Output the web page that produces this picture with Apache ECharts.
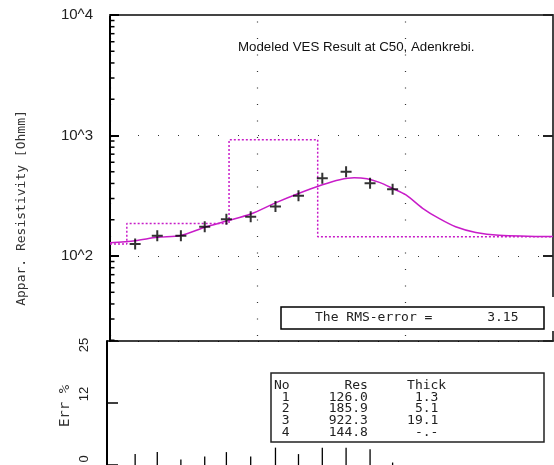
<!DOCTYPE html>
<html><head><meta charset="utf-8">
<script src="https://cdn.jsdelivr.net/npm/echarts@6/dist/echarts.min.js"></script>
<style>html,body{margin:0;padding:0;background:#fff}#c{width:554px;height:465px}</style>
</head><body><div id="c"></div>
<script>
// ---- data ----
const abHalf = [1.48, 2.09, 3.02, 4.38, 6.14, 8.97, 13.2, 18.9, 27.4, 39.7, 57.7, 82.0];
const rhoObs = [126, 147, 147, 175, 202, 212, 257, 317, 441, 501, 401, 358];
const errPct = [2.2, 2.6, 1.1, 1.7, 2.6, 1.7, 3.5, 2.2, 3.5, 3.5, 3.2, 0.5];
const modelAB = [1, 1.48, 2.09, 3.02, 4.38, 6.14, 8.97, 13.2, 18.9, 27.4, 36, 45, 55, 66.7, 82, 101, 131, 169, 219, 300, 431, 1000];
const modelRho = [129, 134, 143, 148, 173, 195, 223, 276, 330, 390, 430, 446, 437, 408, 364, 321, 249, 205, 175, 157, 149, 145];
const layerNo = [1, 2, 3, 4];
const layerRes = [126.0, 185.9, 922.3, 144.8];
const layerThick = [1.3, 5.1, 19.1, null];
const rmsError = 3.15;
const xMin = 1, xMax = 1000;
const yMin = 19.71, yMax = 10000;
const yTickValues = [100, 1000, 10000];
const yTickLabels = ['10^2', '10^3', '10^4'];
const minorTicks = [20,30,40,50,60,70,80,90,200,300,400,500,600,700,800,900,2000,3000,4000,5000,6000,7000,8000,9000];
const errMin = 0, errMax = 25;
const errTickLabels = ['0', '12', '25'];
const titleText = 'Modeled VES Result at C50, Adenkrebi.';

// ---- derived ----
const stepPts = [];
let depth = 0;
for (let i = 0; i < layerRes.length; i++) {
  const start = i === 0 ? xMin : depth;
  const end = layerThick[i] == null ? xMax : depth + layerThick[i];
  stepPts.push([start, layerRes[i]], [end, layerRes[i]]);
  if (layerThick[i] != null) depth += layerThick[i];
}
const tableLines = ['No' + ' '.repeat(7) + 'Res' + ' '.repeat(5) + 'Thick'];
for (let i = 0; i < layerNo.length; i++) {
  const th = layerThick[i] == null ? '-.-' : layerThick[i].toFixed(1);
  tableLines.push(' ' + layerNo[i] + layerRes[i].toFixed(1).padStart(10) + th.padStart(9));
}
const rmsLine = 'The RMS-error =' + rmsError.toFixed(2).padStart(11);

const MAG = '#c81cc8';
const mono = '"DejaVu Sans Mono", monospace';
const sans = '"Liberation Sans", Arial, sans-serif';

const chart = echarts.init(document.getElementById('c'), null, {renderer: 'canvas'});
chart.setOption({
  animation: false,
  backgroundColor: '#fff',
  grid: [
    {left: 110, right: 1, top: 15, bottom: 124, outerBoundsMode: 'none'},
    {left: 110, right: 1, top: 341, bottom: 0, outerBoundsMode: 'none'}
  ],
  xAxis: [
    {gridIndex: 0, type: 'log', min: xMin, max: xMax, position: 'top',
     axisLine: {show: true, onZero: false, lineStyle: {color: '#444', width: 2}},
     axisTick: {show: false}, axisLabel: {show: false}, minorTick: {show: false},
     splitLine: {show: true, lineStyle: {color: '#333', width: 1.2, type: [1, 15.5], dashOffset: 10}}},
    {gridIndex: 1, type: 'log', min: xMin, max: xMax, position: 'top',
     axisLine: {show: true, onZero: false, lineStyle: {color: '#000', width: 1.5}},
     axisTick: {show: false}, axisLabel: {show: false}, splitLine: {show: false}}
  ],
  yAxis: [
    {gridIndex: 0, type: 'log', min: yMin, max: yMax, position: 'left',
     axisLine: {show: true, onZero: false, lineStyle: {color: '#000', width: 2}},
     axisTick: {show: true, inside: true, length: 9, lineStyle: {color: '#000', width: 2}},
     axisLabel: {showMinLabel: false, margin: 17, color: '#222', fontSize: 15, fontFamily: sans,
       formatter: v => { const i = yTickValues.findIndex(t => Math.abs(Math.log10(v) - Math.log10(t)) < 1e-6); return i >= 0 ? yTickLabels[i] : ''; }},
     splitLine: {show: true, lineStyle: {color: '#333', width: 1.2, type: [1, 19], dashOffset: 12}}},
    {gridIndex: 0, type: 'log', min: yMin, max: yMax, position: 'right',
     axisLine: {show: true, onZero: false, lineStyle: {color: '#444', width: 2}},
     axisTick: {show: true, inside: true, length: 10, lineStyle: {color: '#222', width: 2}},
     axisLabel: {show: false}, splitLine: {show: false}},
    {gridIndex: 1, type: 'value', min: errMin, max: errMax, interval: (errMax - errMin) / 2, offset: 3, position: 'left',
     axisLine: {show: true, onZero: false, lineStyle: {color: '#000', width: 2}},
     axisTick: {show: true, inside: true, length: 11, lineStyle: {color: '#000', width: 1.5}},
     axisLabel: {rotate: 90, margin: 16, color: '#222', fontSize: 13, fontFamily: sans,
       formatter: v => { const i = Math.round(v / 12.5); return '{r' + i + '|' + errTickLabels[i] + '}'; },
       rich: {
         r0: {fontSize: 13, fontFamily: sans, color: '#222', padding: [0, 0, 0, 12]},
         r1: {fontSize: 13, fontFamily: sans, color: '#222', padding: [0, 0, 0, 18]},
         r2: {fontSize: 13, fontFamily: sans, color: '#222', padding: [0, 8, 0, 0]}
       }},
     splitLine: {show: false}}
  ],
  series: [
    {type: 'line', xAxisIndex: 0, yAxisIndex: 0, data: stepPts, symbol: 'none', z: 3,
     lineStyle: {color: MAG, width: 1.5, type: [2, 2]}},
    {type: 'line', xAxisIndex: 0, yAxisIndex: 0, data: modelAB.map((x, i) => [x, modelRho[i]]),
     symbol: 'none', smooth: 0.3, z: 4, lineStyle: {color: MAG, width: 1.5}},
    {type: 'scatter', xAxisIndex: 0, yAxisIndex: 0, data: abHalf.map((x, i) => [x, rhoObs[i]]),
     symbol: 'path://M0,4.5H11V6.5H0Z M4.5,0H6.5V11H4.5Z', symbolSize: 11, z: 5,
     itemStyle: {color: '#000'}},
    {type: 'custom', xAxisIndex: 0, yAxisIndex: 0, data: minorTicks.map(v => [xMin, v]),
     encode: {x: 0, y: 1}, clip: false, z: 6,
     renderItem: (params, api) => {
       const p = api.coord([api.value(0), api.value(1)]);
       return {type: 'line', shape: {x1: p[0], y1: p[1], x2: p[0] + 4.5, y2: p[1]}, style: {stroke: '#000', lineWidth: 1.5}};
     }},
    {type: 'custom', xAxisIndex: 1, yAxisIndex: 2, data: abHalf.map((x, i) => [x, errPct[i]]),
     encode: {x: 0, y: 1}, clip: false, z: 5,
     renderItem: (params, api) => {
       const p = api.coord([api.value(0), api.value(1)]);
       const b = api.coord([api.value(0), errMin]);
       return {type: 'line', shape: {x1: p[0], y1: p[1], x2: b[0], y2: b[1]}, style: {stroke: '#000', lineWidth: 1.3}};
     }}
  ],
  graphic: [
    {type: 'rect', z: 100, shape: {x: 550, y: 297, width: 4, height: 34}, style: {fill: '#fff'}},
    {type: 'text', z: 100, x: 238, y: 47.5,
     style: {text: titleText, font: '13.3px ' + sans, fill: '#111', align: 'left', verticalAlign: 'middle', textAlign: 'left', textVerticalAlign: 'middle'}},
    {type: 'text', z: 100, x: 22, y: 208, rotation: Math.PI / 2,
     style: {text: 'Appar. Resistivity [Ohmm]', font: '13px ' + mono, fill: '#333', align: 'center', verticalAlign: 'middle', textAlign: 'center', textVerticalAlign: 'middle'}},
    {type: 'text', z: 100, x: 65, y: 406, rotation: Math.PI / 2,
     style: {text: 'Err %', font: '14px ' + mono, fill: '#333', align: 'center', verticalAlign: 'middle', textAlign: 'center', textVerticalAlign: 'middle'}},
    {type: 'rect', z: 100, shape: {x: 281, y: 307, width: 263, height: 22}, style: {fill: '#fff', stroke: '#000', lineWidth: 1.5}},
    {type: 'text', z: 101, x: 315, y: 318,
     style: {text: rmsLine, font: '13px ' + mono, fill: '#222', align: 'left', verticalAlign: 'middle', textAlign: 'left', textVerticalAlign: 'middle'}},
    {type: 'rect', z: 100, shape: {x: 271, y: 373, width: 273, height: 69}, style: {fill: '#fff', stroke: '#222', lineWidth: 1.5}},
    {type: 'text', z: 101, x: 274, y: 380,
     style: {text: tableLines.join('\n'), font: '13px ' + mono, lineHeight: 11.6, fill: '#222', align: 'left', verticalAlign: 'top', textAlign: 'left', textVerticalAlign: 'top'}}
  ]
});
</script>
</body></html>
